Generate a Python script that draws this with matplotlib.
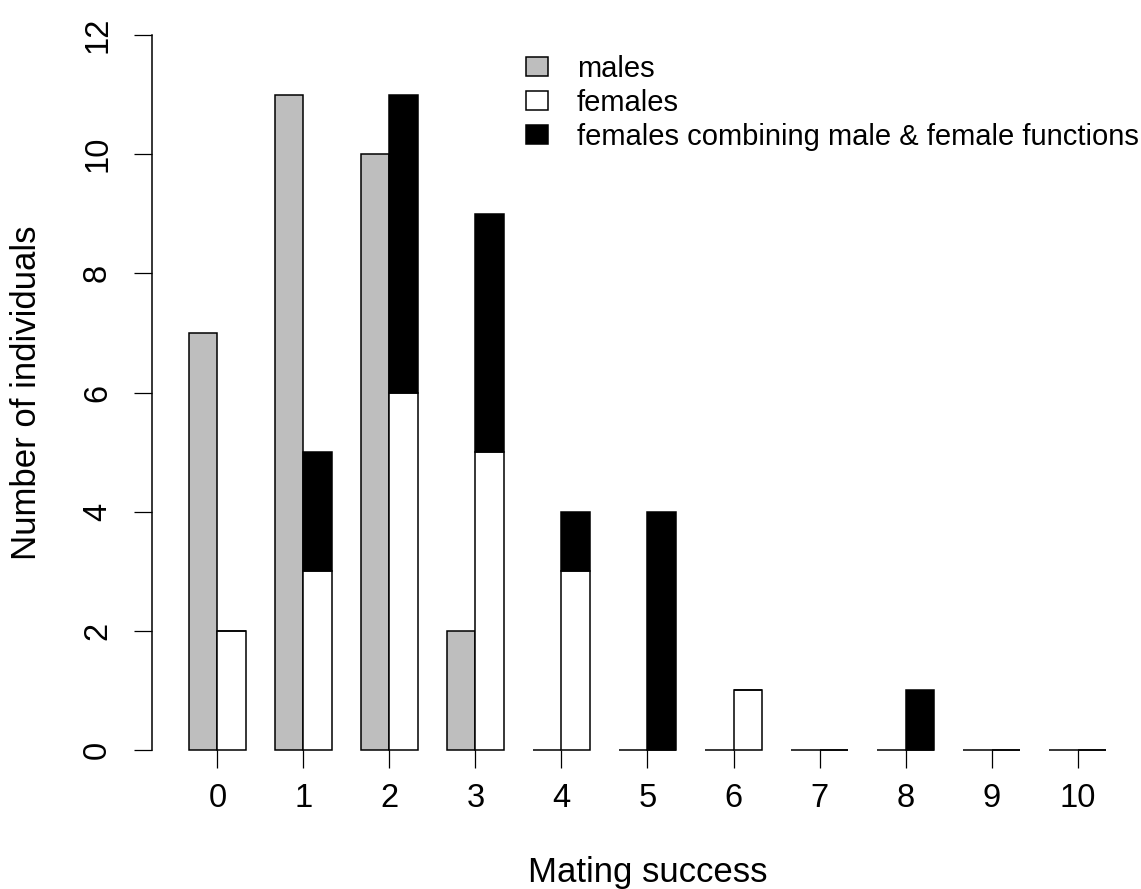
import numpy as np
import matplotlib
matplotlib.use("Agg")
import matplotlib.pyplot as plt
from matplotlib.patches import Patch

plt.rcParams['font.family'] = ['Liberation Sans', 'DejaVu Sans']

# data
mating_success = [0, 1, 2, 3, 4, 5, 6, 7, 8, 9, 10]
males = [7, 11, 10, 2, 0, 0, 0, 0, 0, 0, 0]
females = [2, 3, 6, 5, 3, 0, 1, 0, 0, 0, 0]
females_both = [0, 2, 5, 4, 1, 4, 0, 0, 1, 0, 0]
legend_labels = ["males", "females", "females combining male & female functions"]

fig = plt.figure(figsize=(11.41, 8.89), dpi=100)
ax = fig.add_axes([152 / 1141, 139 / 889, 991 / 1141, 743.6 / 889])

# barplot like R: bar width 1, one unit of space between groups
centres = 3 * np.arange(len(mating_success)) + 2
lw = 1.1
ax.bar(centres - 0.5, males, width=1, color="#bebebe", edgecolor="black",
       linewidth=lw, clip_on=False)
ax.bar(centres + 0.5, females, width=1, color="white", edgecolor="black",
       linewidth=lw, clip_on=False)
ax.bar(centres + 0.5, females_both, width=1, bottom=females, color="black",
       edgecolor="black", linewidth=lw, clip_on=False)

ax.set_xlim(-0.28, 34.28)
ax.set_ylim(0, 12.48)

for s in ["top", "right", "bottom"]:
    ax.spines[s].set_visible(False)
ax.spines["left"].set_bounds(0, 12)
ax.spines["left"].set_linewidth(1.1)

ax.set_xticks(centres)
ax.set_xticklabels([str(m) for m in mating_success])
ax.set_yticks(np.arange(0, 13, 2))
ax.tick_params(axis="x", length=13, width=0.9, pad=11, labelsize=23.5)
ax.tick_params(axis="y", length=13, width=0.9, pad=15, labelsize=23.5,
               labelrotation=90)
for t in ax.get_yticklabels():
    t.set_verticalalignment("center")

ax.set_xlabel("Mating success", fontsize=25, labelpad=30)
ax.set_ylabel("Number of individuals", fontsize=25)
ax.yaxis.set_label_coords(-0.110, 0.481)

handles = [Patch(facecolor="#bebebe", edgecolor="black", linewidth=lw),
           Patch(facecolor="white", edgecolor="black", linewidth=lw),
           Patch(facecolor="black", edgecolor="black", linewidth=lw)]
ax.legend(handles, legend_labels, loc="upper left", frameon=False,
          fontsize=21, handlelength=0.75, handleheight=0.65, handletextpad=1.0,
          labelspacing=0.2, borderpad=0, borderaxespad=0,
          bbox_to_anchor=(526 / 1141, 1 - 55 / 889), bbox_transform=fig.transFigure)

fig.savefig("out.png", dpi=100)
